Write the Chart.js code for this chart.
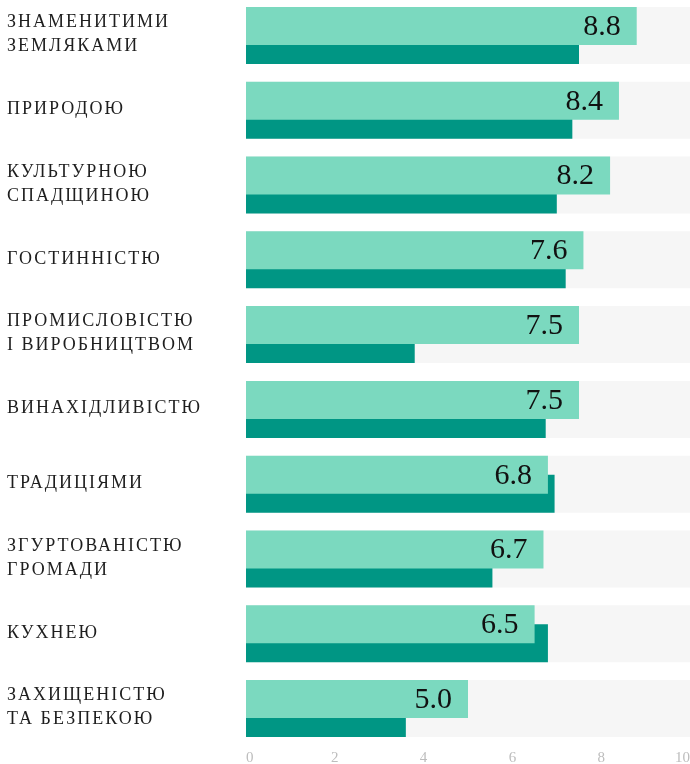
<!DOCTYPE html>
<html>
<head>
<meta charset="utf-8">
<script src="https://cdn.jsdelivr.net/npm/chart.js@4/dist/chart.umd.min.js"></script>
<style>
  html, body { margin: 0; padding: 0; background: #fff; overflow: hidden; }
  #wrap { position: absolute; left: 0; top: -2px; width: 690px; height: 766px; }
</style>
</head>
<body>
<div id="wrap"><canvas id="c" width="690" height="766"></canvas></div>
<script>
const categories = [
  ["ЗНАМЕНИТИМИ", "ЗЕМЛЯКАМИ"],
  ["ПРИРОДОЮ"],
  ["КУЛЬТУРНОЮ", "СПАДЩИНОЮ"],
  ["ГОСТИННІСТЮ"],
  ["ПРОМИСЛОВІСТЮ", "І ВИРОБНИЦТВОМ"],
  ["ВИНАХІДЛИВІСТЮ"],
  ["ТРАДИЦІЯМИ"],
  ["ЗГУРТОВАНІСТЮ", "ГРОМАДИ"],
  ["КУХНЕЮ"],
  ["ЗАХИЩЕНІСТЮ", "ТА БЕЗПЕКОЮ"]
];
const mainValues = [8.8, 8.4, 8.2, 7.6, 7.5, 7.5, 6.8, 6.7, 6.5, 5.0];
const compareValues = [7.5, 7.35, 7.0, 7.2, 3.8, 6.75, 6.95, 5.55, 6.8, 3.6];
const trackValues = [10, 10, 10, 10, 10, 10, 10, 10, 10, 10];
const xMin = 0, xMax = 10, xStep = 2;

const labelPlugin = {
  id: 'catLabels',
  afterDraw(chart) {
    const ctx = chart.ctx;
    const y = chart.scales.y;
    ctx.save();
    ctx.font = '18px "Liberation Serif", serif';
    ctx.fillStyle = '#1e1e1e';
    ctx.textAlign = 'left';
    ctx.textBaseline = 'middle';
    ctx.letterSpacing = '2px';
    const lh = 24;
    categories.forEach((lines, i) => {
      const cy = y.getPixelForValue(i) - 1;
      const start = cy - (lines.length - 1) * lh / 2;
      lines.forEach((t, j) => ctx.fillText(t, 7, start + j * lh));
    });
    ctx.restore();
  }
};

const valuePlugin = {
  id: 'valueLabels',
  afterDatasetsDraw(chart) {
    const ctx = chart.ctx;
    const meta = chart.getDatasetMeta(0);
    ctx.save();
    ctx.font = '30px "Liberation Serif", serif';
    ctx.fillStyle = '#111';
    ctx.textAlign = 'right';
    ctx.textBaseline = 'middle';
    meta.data.forEach((el, i) => {
      ctx.fillText(mainValues[i].toFixed(1), el.x - 16, el.y + 1);
    });
    ctx.restore();
  }
};

new Chart(document.getElementById('c'), {
  type: 'bar',
  data: {
    labels: categories.map(l => l.join(' ')),
    datasets: [
      { data: mainValues, backgroundColor: '#7bd9bf', stack: 'a', grouped: true,
        categoryPercentage: 0.508, barPercentage: 2 },
      { data: compareValues, backgroundColor: '#009684', stack: 'b', grouped: true,
        categoryPercentage: 0.508, barPercentage: 2 },
      { data: trackValues, backgroundColor: '#f6f6f6', stack: 'c', grouped: false,
        categoryPercentage: 0.508, barPercentage: 1.5 }
    ]
  },
  options: {
    indexAxis: 'y',
    responsive: false,
    animation: false,
    devicePixelRatio: 1,
    layout: { padding: { left: 246, right: 0, top: 0, bottom: 0 } },
    plugins: { legend: { display: false }, tooltip: { enabled: false } },
    scales: {
      y: { display: false, stacked: false },
      x: {
        min: xMin, max: xMax, stacked: false,
        grid: { display: false, drawTicks: false },
        border: { display: false },
        ticks: {
          stepSize: xStep, align: 'inner', padding: 3,
          color: '#bdbdbd',
          font: { family: '"Liberation Serif", serif', size: 15 }
        },
        afterFit(scale) { scale.height = 18; scale.paddingLeft = 0; scale.paddingRight = 0; }
      }
    }
  },
  plugins: [labelPlugin, valuePlugin]
});
</script>
</body>
</html>
